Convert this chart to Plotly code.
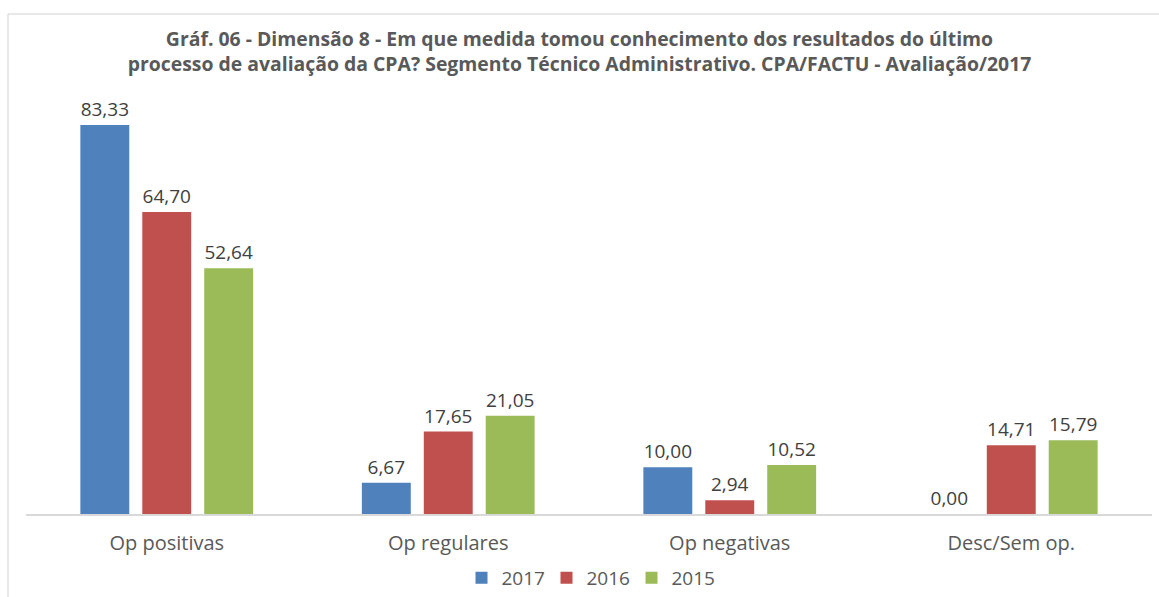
import plotly.graph_objects as go

categories = ["Op positivas", "Op regulares", "Op negativas", "Desc/Sem op."]
years = ["2017", "2016", "2015"]
values_2017 = [83.33, 6.67, 10.00, 0.00]
values_2016 = [64.70, 17.65, 2.94, 14.71]
values_2015 = [52.64, 21.05, 10.52, 15.79]
colors = ["#4F81BD", "#C0504D", "#9BBB59"]

series = [values_2017, values_2016, values_2015]

W, H = 1159, 597
ML, MR, MT, MB = 26, 7, 100, 83

fig = go.Figure()
for name, vals, col in zip(years, series, colors):
    fig.add_trace(go.Bar(
        x=categories, y=vals, name=name,
        marker=dict(color=col, line=dict(width=0)),
        texttemplate="%{y:.2f}", textposition="outside",
        textfont=dict(family="Open Sans", size=19, color="#404040"),
        cliponaxis=False,
    ))

plot_w = W - ML - MR
plot_h = H - MT - MB
def px_x(p):
    return (p - ML) / plot_w
def px_y(p):
    return (H - MB - p) / plot_h

fig.update_layout(
    width=W, height=H,
    separators=",.",
    paper_bgcolor="white", plot_bgcolor="white",
    margin=dict(l=ML, r=MR, t=MT, b=MB, autoexpand=False),
    barmode="group", bargap=0.34, bargroupgap=0.21,
    title=dict(
        text="Gráf. 06 - Dimensão 8 - Em que medida tomou conhecimento dos resultados do último<br>processo de avaliação da CPA? Segmento Técnico Administrativo. CPA/FACTU - Avaliação/2017",
        x=0.5, xanchor="center", y=1 - 46 / H, yanchor="top",
        font=dict(family="Open Sans", size=19.4, color="#595959", weight="bold"),
    ),
    xaxis=dict(
        showline=True, linecolor="#D9D9D9", linewidth=1.5,
        ticks="", showgrid=False, ticklabelstandoff=10,
        tickfont=dict(family="Open Sans", size=20, color="#595959"),
    ),
    yaxis=dict(range=[0, 88.7], visible=False, showgrid=False, zeroline=False),
    legend=dict(
        orientation="h", x=0.5, xanchor="center",
        yref="container", y=1 - 578 / H, yanchor="middle",
        font=dict(family="Open Sans", size=19, color="#595959"),
        itemwidth=30, traceorder="normal", entrywidth=40,
    ),
)

fig.add_shape(type="line", xref="paper", yref="paper",
              x0=px_x(8), x1=px_x(1159), y0=px_y(14), y1=px_y(14),
              line=dict(color="#E0E0E0", width=1.5))
fig.add_shape(type="line", xref="paper", yref="paper",
              x0=px_x(8), x1=px_x(8), y0=px_y(14), y1=px_y(597),
              line=dict(color="#E0E0E0", width=1.5))

fig.write_html("out.html", config={"displayModeBar": False},
               post_script="document.body.style.margin='0';document.body.style.overflow='hidden';")
